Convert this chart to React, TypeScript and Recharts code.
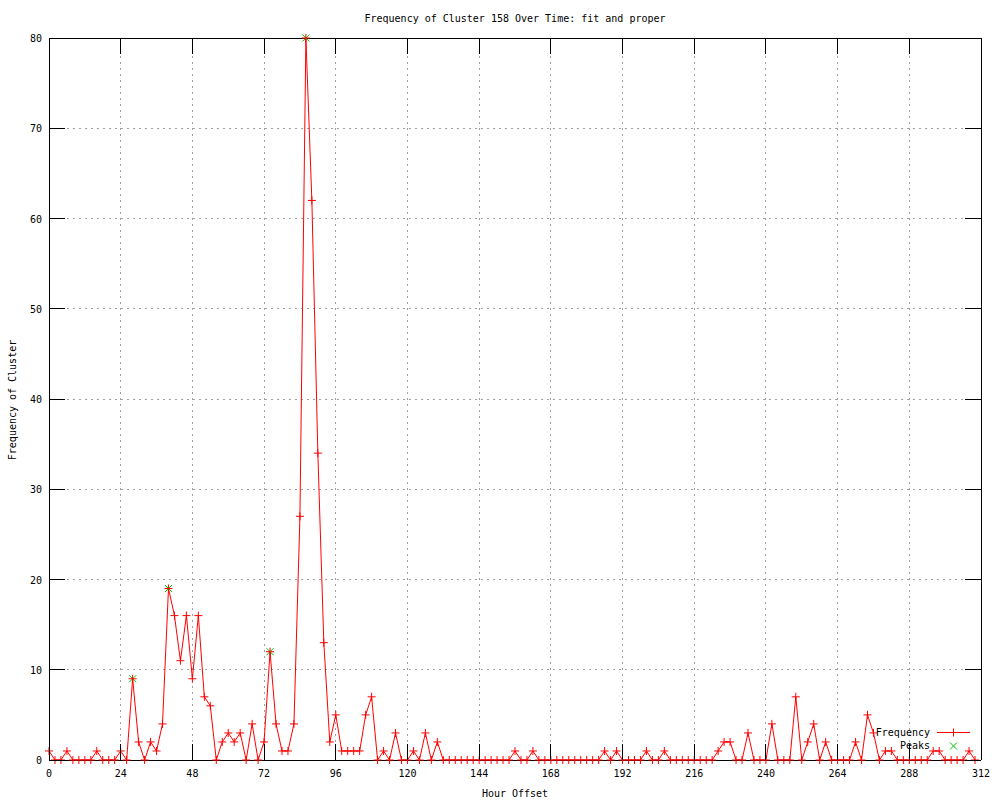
import React from "react";
import {
  ComposedChart,
  Line,
  Scatter,
  XAxis,
  YAxis,
  CartesianGrid,
  Legend,
} from "recharts";

// hour offsets (every 2 hours)
const hours = [
  0, 2, 4, 6, 8, 10, 12, 14, 16, 18, 20, 22,
  24, 26, 28, 30, 32, 34, 36, 38, 40, 42, 44, 46,
  48, 50, 52, 54, 56, 58, 60, 62, 64, 66, 68, 70,
  72, 74, 76, 78, 80, 82, 84, 86, 88, 90, 92, 94,
  96, 98, 100, 102, 104, 106, 108, 110, 112, 114, 116, 118,
  120, 122, 124, 126, 128, 130, 132, 134, 136, 138, 140, 142,
  144, 146, 148, 150, 152, 154, 156, 158, 160, 162, 164, 166,
  168, 170, 172, 174, 176, 178, 180, 182, 184, 186, 188, 190,
  192, 194, 196, 198, 200, 202, 204, 206, 208, 210, 212, 214,
  216, 218, 220, 222, 224, 226, 228, 230, 232, 234, 236, 238,
  240, 242, 244, 246, 248, 250, 252, 254, 256, 258, 260, 262,
  264, 266, 268, 270, 272, 274, 276, 278, 280, 282, 284, 286,
  288, 290, 292, 294, 296, 298, 300, 302, 304, 306, 308, 310,
];

const frequency = [
  1, 0, 0, 1, 0, 0, 0, 0, 1, 0, 0, 0,
  1, 0, 9, 2, 0, 2, 1, 4, 19, 16, 11, 16,
  9, 16, 7, 6, 0, 2, 3, 2, 3, 0, 4, 0,
  2, 12, 4, 1, 1, 4, 27, 80, 62, 34, 13, 2,
  5, 1, 1, 1, 1, 5, 7, 0, 1, 0, 3, 0,
  0, 1, 0, 3, 0, 2, 0, 0, 0, 0, 0, 0,
  0, 0, 0, 0, 0, 0, 1, 0, 0, 1, 0, 0,
  0, 0, 0, 0, 0, 0, 0, 0, 0, 1, 0, 1,
  0, 0, 0, 0, 1, 0, 0, 1, 0, 0, 0, 0,
  0, 0, 0, 0, 1, 2, 2, 0, 0, 3, 0, 0,
  0, 4, 0, 0, 0, 7, 0, 2, 4, 0, 2, 0,
  0, 0, 0, 2, 0, 5, 3, 0, 1, 1, 0, 0,
  0, 0, 0, 0, 1, 1, 0, 0, 0, 0, 1, 0,
];

const peakHours = [28, 40, 74, 86];
const peakValues = [9, 19, 12, 80];

const xTicks = [0, 24, 48, 72, 96, 120, 144, 168, 192, 216, 240, 264, 288, 312];
const yTicks = [0, 10, 20, 30, 40, 50, 60, 70, 80];

const data = hours.map((h, i) => ({ hour: h, freq: frequency[i] }));
const peaks = peakHours.map((h, i) => ({ hour: h, peak: peakValues[i] }));

const FONT = "'DejaVu Sans Mono', monospace";
const RED = "#ff0000";
const GREEN = "#00c000";
const TICK = 16;
const W = 1000;
const H = 800;
const MARGIN = { top: 37, right: 18, left: 48, bottom: 39 };
// axes are 1px thick, so the plot box sits one pixel inside the margins
const PLOT_TOP = MARGIN.top + 1;
const PLOT_RIGHT = W - MARGIN.right - 1;

const Plus = ({ cx, cy }) => (
  <path
    d={`M${cx - 4},${cy}h8M${cx},${cy - 4}v8`}
    stroke={RED}
    strokeWidth={1}
    fill="none"
  />
);

const Cross = ({ cx, cy }) => (
  <path
    d={`M${cx - 3.5},${cy - 3.5}l7,7M${cx - 3.5},${cy + 3.5}l7,-7`}
    stroke={GREEN}
    strokeWidth={1}
    fill="none"
  />
);

// gnuplot style: ticks point inward, mirrored on the opposite border
const BottomTick = ({ x, y, payload }) => (
  <g>
    <line x1={x} y1={y} x2={x} y2={y - TICK} stroke="#000" shapeRendering="crispEdges" />
    <line x1={x} y1={PLOT_TOP} x2={x} y2={PLOT_TOP + TICK} stroke="#000" shapeRendering="crispEdges" />
    <text x={x} y={y + 17} textAnchor="middle" fontFamily={FONT} fontSize={10} fill="#000">
      {payload.value}
    </text>
  </g>
);

const LeftTick = ({ x, y, payload }) => (
  <g>
    <line x1={x} y1={y} x2={x + TICK} y2={y} stroke="#000" shapeRendering="crispEdges" />
    <line x1={PLOT_RIGHT} y1={y} x2={PLOT_RIGHT - TICK} y2={y} stroke="#000" shapeRendering="crispEdges" />
    <text x={x - 7} y={y + 4} textAnchor="end" fontFamily={FONT} fontSize={10} fill="#000">
      {payload.value}
    </text>
  </g>
);

const LegendBox = () => (
  <svg width={150} height={34} style={{ display: "block" }}>
    <text x={80} y={14} textAnchor="end" fontFamily={FONT} fontSize={10} fill="#000">
      Frequency
    </text>
    <line x1={87} y1={10.5} x2={120} y2={10.5} stroke={RED} />
    <Plus cx={103.5} cy={10.5} />
    <text x={80} y={27} textAnchor="end" fontFamily={FONT} fontSize={10} fill="#000">
      Peaks
    </text>
    <Cross cx={103.5} cy={24} />
  </svg>
);

const App = () => {
  return (
    <div style={{ position: "absolute", left: 0, top: 0, width: W, height: H, background: "#fff" }}>
      <svg width={W} height={H} style={{ position: "absolute", left: 0, top: 0, pointerEvents: "none" }}>
        <text x={515} y={22} textAnchor="middle" fontFamily={FONT} fontSize={10} fill="#000">
          Frequency of Cluster 158 Over Time: fit and proper
        </text>
        <text x={515} y={797} textAnchor="middle" fontFamily={FONT} fontSize={10} fill="#000">
          Hour Offset
        </text>
        <text
          x={16}
          y={400}
          textAnchor="middle"
          fontFamily={FONT}
          fontSize={10}
          fill="#000"
          transform="rotate(-90 16 400)"
        >
          Frequency of Cluster
        </text>
      </svg>
      <ComposedChart width={W} height={H} data={data} margin={MARGIN}>
        <CartesianGrid stroke="#a0a0a0" strokeDasharray="2 4" shapeRendering="crispEdges" />
        <XAxis
          dataKey="hour"
          type="number"
          domain={[0, 312]}
          ticks={xTicks}
          height={1}
          tickSize={0}
          tickMargin={0}
          tickLine={false}
          axisLine={{ stroke: "#000", shapeRendering: "crispEdges" }}
          tick={BottomTick}
          interval={0}
        />
        <XAxis
          xAxisId="top"
          orientation="top"
          type="number"
          domain={[0, 312]}
          height={1}
          tickLine={false}
          axisLine={{ stroke: "#000", shapeRendering: "crispEdges" }}
          tick={false}
        />
        <YAxis
          type="number"
          domain={[0, 80]}
          ticks={yTicks}
          width={1}
          tickSize={0}
          tickMargin={0}
          tickLine={false}
          axisLine={{ stroke: "#000", shapeRendering: "crispEdges" }}
          tick={LeftTick}
          interval={0}
        />
        <YAxis
          yAxisId="right"
          orientation="right"
          type="number"
          domain={[0, 80]}
          width={1}
          tickLine={false}
          axisLine={{ stroke: "#000", shapeRendering: "crispEdges" }}
          tick={false}
        />
        <Line
          type="linear"
          dataKey="freq"
          stroke={RED}
          strokeWidth={1}
          dot={(p) => <Plus key={p.index} cx={p.cx} cy={p.cy} />}
          activeDot={false}
          isAnimationActive={false}
        />
        <Scatter
          data={peaks}
          dataKey="peak"
          shape={(p) => <Cross cx={p.cx} cy={p.cy} />}
          isAnimationActive={false}
        />
        <Legend
          layout="vertical"
          align="center"
          verticalAlign="middle"
          wrapperStyle={{ position: "absolute", left: 850, top: 722, width: 150 }}
          content={() => <LegendBox />}
        />
      </ComposedChart>
    </div>
  );
};

export default App;
